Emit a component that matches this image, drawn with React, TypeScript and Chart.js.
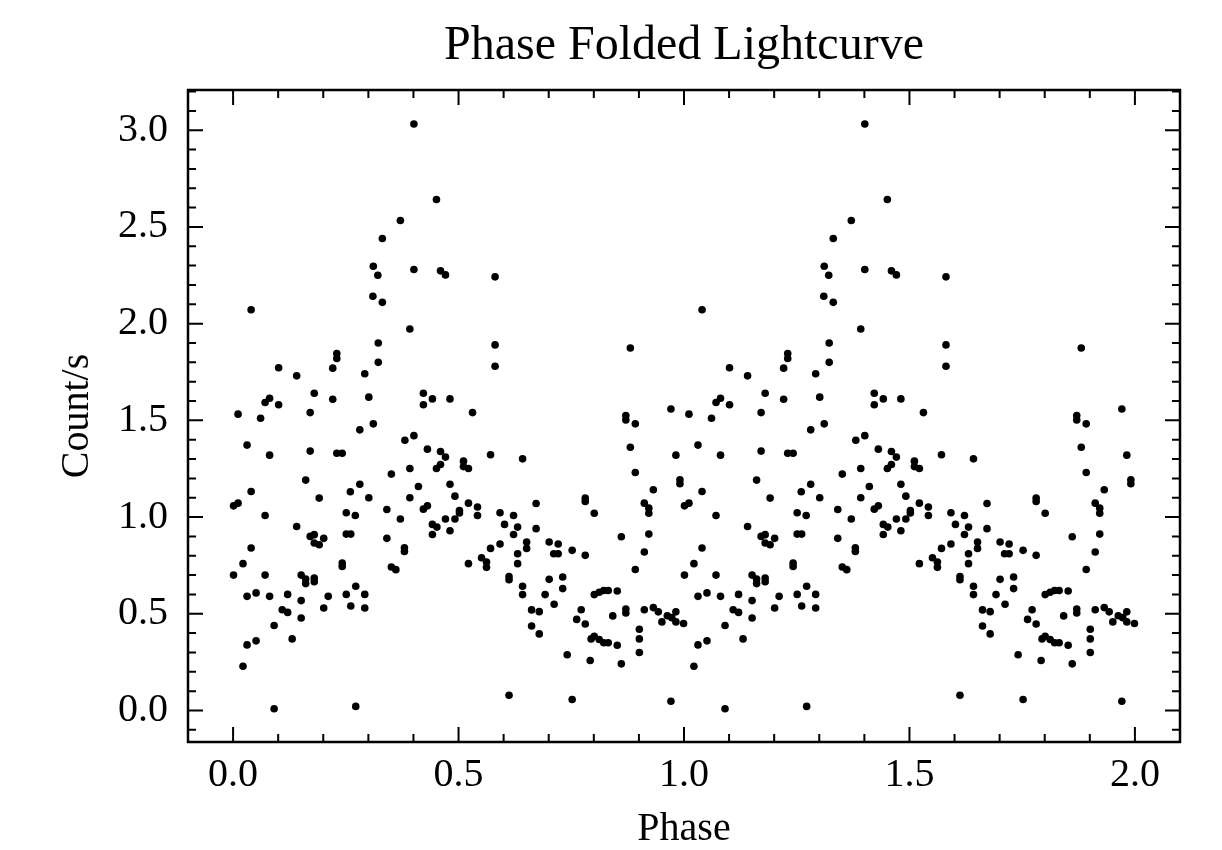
import React, { useEffect, useRef } from "react";
import { Chart, registerables } from "chart.js";

Chart.register(...registerables);

// Phase-folded light curve: one cycle (phase 0..1), plotted twice (phase and phase + 1)
const phase: number[] = [
  0.310, 0.331, 0.040, 0.322, 0.230, 0.230, 0.221, 0.322, 0.101, 0.141,
  0.292, 0.180, 0.081, 0.071, 0.101, 0.221, 0.301, 0.011, 0.061, 0.171,
  0.281, 0.311, 0.031, 0.081, 0.171, 0.230, 0.242, 0.351, 0.161, 0.281,
  0.040, 0.260, 0.191, 0.301, 0.001, 0.011, 0.071, 0.251, 0.271, 0.341,
  0.371, 0.141, 0.171, 0.180, 0.180, 0.191, 0.201, 0.251, 0.261, 0.341,
  0.040, 0.022, 0.242, 0.242, 0.351, 0.361, 0.001, 0.071, 0.151, 0.161,
  0.161, 0.180, 0.180, 0.272, 0.031, 0.051, 0.081, 0.121, 0.151, 0.211,
  0.251, 0.292, 0.109, 0.121, 0.201, 0.261, 0.292, 0.151, 0.091, 0.031,
  0.051, 0.131, 0.022, 0.091, 0.272, 0.311, 0.321, 0.331, 0.371, 0.401,
  0.451, 0.401, 0.460, 0.471, 0.581, 0.392, 0.581, 0.581, 0.422, 0.422,
  0.442, 0.481, 0.531, 0.381, 0.401, 0.431, 0.460, 0.471, 0.571, 0.642,
  0.392, 0.451, 0.460, 0.511, 0.511, 0.522, 0.411, 0.481, 0.492, 0.392,
  0.522, 0.542, 0.542, 0.672, 0.422, 0.431, 0.502, 0.502, 0.592, 0.622,
  0.471, 0.492, 0.442, 0.452, 0.442, 0.481, 0.602, 0.631, 0.622, 0.672,
  0.651, 0.651, 0.380, 0.380, 0.592, 0.571, 0.631, 0.631, 0.522, 0.551,
  0.562, 0.562, 0.612, 0.612, 0.642, 0.642, 0.662, 0.679, 0.662, 0.679,
  0.612, 0.971, 0.871, 0.871, 0.892, 0.881, 0.982, 0.892, 0.991, 0.991,
  0.932, 0.781, 0.781, 0.912, 0.922, 0.922, 0.801, 0.861, 0.922, 0.701,
  0.721, 0.711, 0.721, 0.752, 0.781, 0.912, 0.892, 0.701, 0.731, 0.731,
  0.692, 0.712, 0.801, 0.812, 0.822, 0.832, 0.852, 0.772, 0.762, 0.781,
  0.842, 0.871, 0.871, 0.912, 0.932, 0.943, 0.951, 0.963, 0.973, 0.982,
  0.982, 0.999, 0.794, 0.801, 0.812, 0.822, 0.832, 0.852, 0.901, 0.901,
  0.901, 0.741, 0.792, 0.861, 0.752, 0.971, 0.881,
];

const countRate: number[] = [
  2.142, 2.110, 2.072, 1.900, 1.846, 1.820, 1.770, 1.800, 1.772, 1.730,
  1.741, 1.640, 1.614, 1.592, 1.581, 1.609, 1.620, 1.532, 1.511, 1.540,
  1.451, 1.482, 1.372, 1.320, 1.341, 1.330, 1.330, 1.222, 1.191, 1.170,
  1.132, 1.131, 1.098, 1.100, 1.058, 1.072, 1.008, 1.022, 1.008, 1.039,
  0.990, 0.951, 0.900, 0.909, 0.866, 0.857, 0.890, 0.912, 0.912, 0.890,
  0.840, 0.759, 0.762, 0.745, 0.742, 0.728, 0.700, 0.700, 0.700, 0.680,
  0.656, 0.685, 0.666, 0.642, 0.590, 0.608, 0.590, 0.600, 0.568, 0.590,
  0.600, 0.600, 0.521, 0.507, 0.530, 0.540, 0.530, 0.478, 0.439, 0.339,
  0.360, 0.370, 0.229, 0.009, 0.021, 2.297, 2.250, 2.440, 2.533, 3.032,
  2.642, 2.280, 2.273, 2.252, 2.242, 1.972, 1.890, 1.780, 1.640, 1.581,
  1.611, 1.611, 1.540, 1.397, 1.421, 1.351, 1.339, 1.310, 1.322, 1.301,
  1.251, 1.251, 1.272, 1.289, 1.261, 1.251, 1.158, 1.170, 1.108, 1.100,
  1.072, 1.052, 1.008, 1.070, 1.041, 1.058, 1.034, 1.021, 1.022, 1.008,
  0.990, 0.990, 0.962, 0.948, 0.910, 0.929, 0.962, 0.948, 0.910, 0.940,
  0.871, 0.838, 0.841, 0.822, 0.861, 0.838, 0.810, 0.759, 0.759, 0.790,
  0.768, 0.740, 0.693, 0.676, 0.642, 0.599, 0.520, 0.511, 0.437, 0.396,
  0.079, 1.559, 1.525, 1.502, 1.482, 1.361, 1.320, 1.230, 1.193, 1.172,
  1.141, 1.098, 1.081, 1.072, 1.046, 1.020, 1.020, 0.898, 0.912, 0.871,
  0.861, 0.810, 0.810, 0.828, 0.802, 0.819, 0.729, 0.678, 0.690, 0.630,
  0.599, 0.549, 0.599, 0.611, 0.620, 0.620, 0.618, 0.521, 0.471, 0.447,
  0.489, 0.525, 0.504, 0.521, 0.532, 0.510, 0.458, 0.490, 0.480, 0.510,
  0.458, 0.450, 0.370, 0.384, 0.367, 0.350, 0.350, 0.337, 0.420, 0.370,
  0.300, 0.288, 0.258, 0.241, 0.057, 0.048, 1.874,
];

const foldCopies: number[] = [0, 1];
const xMin = -0.1;
const xMax = 2.1;
const yMin = -0.163;
const yMax = 3.208;
const titleText = "Phase Folded Lightcurve";
const xLabel = "Phase";
const yLabel = "Count/s";

const FONT = "'Liberation Serif', 'Times New Roman', Times, serif";

const framePlugin = {
  id: "mplFrame",
  afterDraw(chart: any) {
    const { ctx, chartArea: a, scales } = chart;
    const xs = scales.x;
    const ys = scales.y;
    ctx.save();
    ctx.strokeStyle = "#000";
    ctx.lineCap = "butt";
    ctx.lineWidth = 2;
    const majorLen = 15;
    const minorLen = 8;
    for (let i = -1; i <= 21; i++) {
      const px = xs.getPixelForValue(i / 10);
      if (px < a.left + 1 || px > a.right - 1) continue;
      const len = i % 5 === 0 ? majorLen : minorLen;
      ctx.beginPath();
      ctx.moveTo(px, a.bottom);
      ctx.lineTo(px, a.bottom - len);
      ctx.moveTo(px, a.top);
      ctx.lineTo(px, a.top + len);
      ctx.stroke();
    }
    for (let i = -2; i <= 32; i++) {
      const py = ys.getPixelForValue(i / 10);
      if (py < a.top + 1 || py > a.bottom - 1) continue;
      const len = i % 5 === 0 ? majorLen : minorLen;
      ctx.beginPath();
      ctx.moveTo(a.left, py);
      ctx.lineTo(a.left + len, py);
      ctx.moveTo(a.right, py);
      ctx.lineTo(a.right - len, py);
      ctx.stroke();
    }
    ctx.lineWidth = 2.5;
    ctx.strokeRect(a.left, a.top, a.right - a.left, a.bottom - a.top);
    ctx.restore();
  },
};

export default function App() {
  const canvasRef = useRef<HTMLCanvasElement | null>(null);

  useEffect(() => {
    if (!canvasRef.current) return;
    const points = foldCopies.flatMap((shift) =>
      phase.map((p, i) => ({ x: p + shift, y: countRate[i] }))
    );
    const chart = new Chart(canvasRef.current, {
      type: "scatter",
      data: {
        datasets: [
          {
            label: "Lightcurve",
            data: points,
            backgroundColor: "#000",
            borderColor: "#000",
            borderWidth: 0,
            pointRadius: 3.8,
            pointHoverRadius: 3.8,
          },
        ],
      },
      options: {
        animation: false,
        responsive: false,
        maintainAspectRatio: false,
        devicePixelRatio: 1,
        layout: { padding: { left: 0, right: 42, top: 0, bottom: 0 } },
        plugins: {
          legend: { display: false },
          tooltip: { enabled: false },
          title: {
            display: true,
            fullSize: false,
            text: titleText,
            color: "#000",
            font: { family: FONT, size: 48, weight: "normal", lineHeight: 1.2 },
            padding: { top: 18, bottom: 14.4 },
          },
        },
        scales: {
          x: {
            type: "linear",
            min: xMin,
            max: xMax,
            grid: { display: false, drawTicks: false },
            border: { display: false },
            ticks: {
              stepSize: 0.5,
              includeBounds: false,
              color: "#000",
              padding: 9,
              maxRotation: 0,
              font: { family: FONT, size: 40, lineHeight: 1.2 },
              callback: (v: any) => Number(v).toFixed(1),
            },
            title: {
              display: true,
              text: xLabel,
              color: "#000",
              font: { family: FONT, size: 40, lineHeight: 1.2 },
              padding: { top: 0, bottom: -3 },
            },
            afterFit: (scale: any) => {
              scale.height = 108;
            },
          },
          y: {
            type: "linear",
            min: yMin,
            max: yMax,
            grid: { display: false, drawTicks: false },
            border: { display: false },
            ticks: {
              stepSize: 0.5,
              includeBounds: false,
              color: "#000",
              padding: 20,
              font: { family: FONT, size: 40, lineHeight: 1.2 },
              callback: (v: any) => Number(v).toFixed(1),
            },
            title: {
              display: true,
              text: yLabel,
              color: "#000",
              font: { family: FONT, size: 40, lineHeight: 1.2 },
              padding: { top: 53, bottom: 0 },
            },
            afterFit: (scale: any) => {
              scale.width = 188;
            },
          },
        },
      },
      plugins: [framePlugin],
    });
    return () => chart.destroy();
  }, []);

  return (
    <div style={{ position: "absolute", left: 0, top: 0, width: 1222, height: 850, background: "#fff" }}>
      <canvas ref={canvasRef} width={1222} height={850} />
    </div>
  );
}
